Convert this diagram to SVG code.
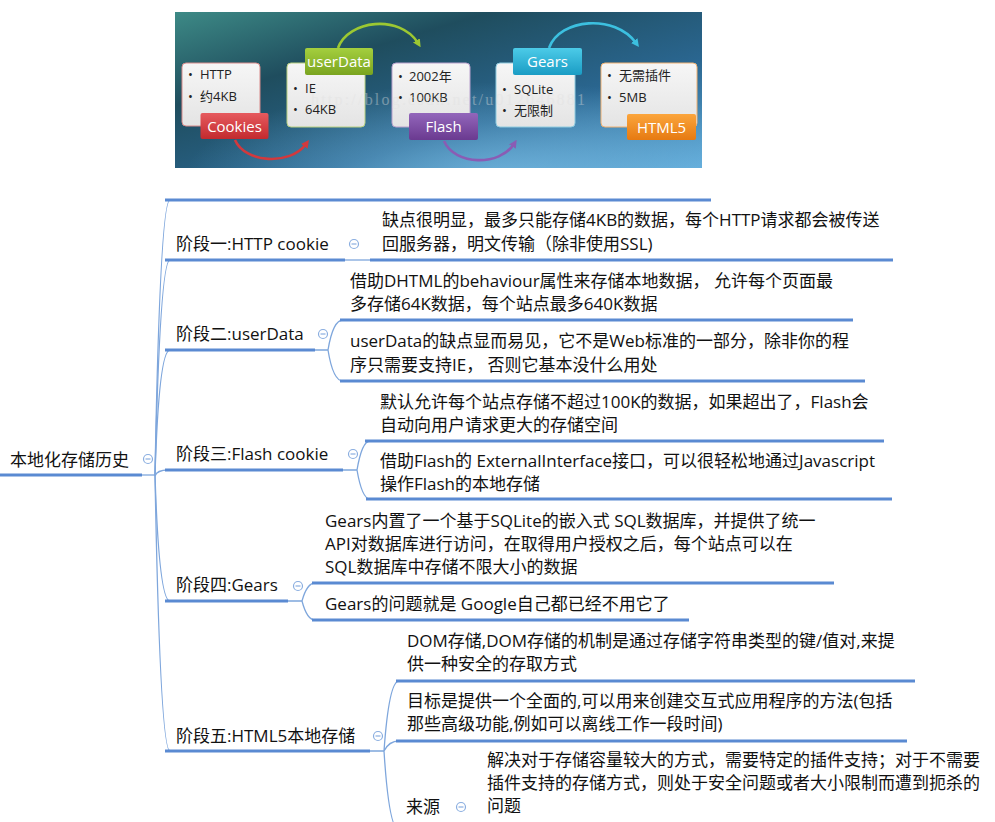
<svg xmlns="http://www.w3.org/2000/svg" width="995" height="822" viewBox="0 0 995 822">
<defs>
<style>
.t{font-family:'Open Sans','Noto Sans CJK SC',sans-serif;font-size:17px;fill:#111}
.ul{stroke:#5a8ad2;stroke-width:3;fill:none}
.cn{stroke:#7ea6dc;stroke-width:1.3;fill:none}
.cc{fill:#fff;stroke:#8aaee0;stroke-width:1.2}
.cm{stroke:#8aaee0;stroke-width:1.2}
.bx{font-family:'Open Sans','Noto Sans CJK SC',sans-serif;font-size:13px;fill:#222}
.lb{font-family:'Open Sans','Noto Sans CJK SC',sans-serif;font-size:15px;fill:#fff;text-anchor:middle}
.arw{fill:none;stroke-width:2.6}
</style>
<linearGradient id="bg" x1="0" y1="0" x2="1" y2="1">
<stop offset="0" stop-color="#3d8a86"/>
<stop offset="0.3" stop-color="#1f4d5e"/>
<stop offset="0.65" stop-color="#2a6690"/>
<stop offset="1" stop-color="#5ea9d8"/>
</linearGradient>
<radialGradient id="glow" cx="0.62" cy="1.05" r="0.6">
<stop offset="0" stop-color="#7cc0e8" stop-opacity="0.7"/>
<stop offset="1" stop-color="#7cc0e8" stop-opacity="0"/>
</radialGradient>
<linearGradient id="box" x1="0" y1="0" x2="0" y2="1">
<stop offset="0" stop-color="#f6f6f6"/>
<stop offset="1" stop-color="#e4e4e4"/>
</linearGradient>
<linearGradient id="gr" x1="0" y1="0" x2="0" y2="1"><stop offset="0" stop-color="#e65a5e"/><stop offset="1" stop-color="#c22a2e"/></linearGradient>
<linearGradient id="gg" x1="0" y1="0" x2="0" y2="1"><stop offset="0" stop-color="#a4cf3e"/><stop offset="1" stop-color="#7aa420"/></linearGradient>
<linearGradient id="gp" x1="0" y1="0" x2="0" y2="1"><stop offset="0" stop-color="#9366bb"/><stop offset="1" stop-color="#6a3a90"/></linearGradient>
<linearGradient id="gc" x1="0" y1="0" x2="0" y2="1"><stop offset="0" stop-color="#4ccbe8"/><stop offset="1" stop-color="#1a9cc4"/></linearGradient>
<linearGradient id="go" x1="0" y1="0" x2="0" y2="1"><stop offset="0" stop-color="#fba53c"/><stop offset="1" stop-color="#e67a12"/></linearGradient>
<marker id="mr" markerWidth="8" markerHeight="8" refX="3" refY="4" orient="auto" markerUnits="userSpaceOnUse"><path d="M0,0 L8,4 L0,8 z" fill="#d2393d"/></marker>
<marker id="mg" markerWidth="8" markerHeight="8" refX="3" refY="4" orient="auto" markerUnits="userSpaceOnUse"><path d="M0,0 L8,4 L0,8 z" fill="#9cc832"/></marker>
<marker id="mp" markerWidth="8" markerHeight="8" refX="3" refY="4" orient="auto" markerUnits="userSpaceOnUse"><path d="M0,0 L8,4 L0,8 z" fill="#8a5cb4"/></marker>
<marker id="mc" markerWidth="8" markerHeight="8" refX="3" refY="4" orient="auto" markerUnits="userSpaceOnUse"><path d="M0,0 L8,4 L0,8 z" fill="#3cc0e0"/></marker>
</defs>
<rect width="995" height="822" fill="#fff"/>

<g id="picture">
<rect x="175" y="12" width="527" height="156" fill="url(#bg)"/>
<rect x="175" y="12" width="527" height="156" fill="url(#glow)"/>
<rect x="182" y="63" width="78" height="63" rx="4" fill="url(#box)" stroke="#d88a8a" stroke-width="1"/>
<rect x="287" y="63" width="78" height="64" rx="4" fill="url(#box)" stroke="#b8d080" stroke-width="1"/>
<rect x="392" y="63" width="78" height="64" rx="4" fill="url(#box)" stroke="#b8a0cc" stroke-width="1"/>
<rect x="496" y="63" width="79" height="64" rx="4" fill="url(#box)" stroke="#90cce0" stroke-width="1"/>
<rect x="601" y="63" width="96" height="64" rx="4" fill="url(#box)" stroke="#f0b070" stroke-width="1"/>
<text class="bx" x="188" y="78.5">•<tspan x="200">HTTP</tspan></text>
<text class="bx" x="188" y="100.5">•<tspan x="200">约4KB</tspan></text>
<text class="bx" x="293" y="92.5">•<tspan x="305">IE</tspan></text>
<text class="bx" x="293" y="113.5">•<tspan x="305">64KB</tspan></text>
<text class="bx" x="398" y="80.5">•<tspan x="409">2002年</tspan></text>
<text class="bx" x="398" y="101.5">•<tspan x="409">100KB</tspan></text>
<text class="bx" x="502" y="93.5">•<tspan x="514">SQLite</tspan></text>
<text class="bx" x="502" y="114.5">•<tspan x="514">无限制</tspan></text>
<text class="bx" x="607" y="79.5">•<tspan x="619">无需插件</tspan></text>
<text class="bx" x="607" y="101.5">•<tspan x="619">5MB</tspan></text>
<path class="arw" d="M235,140 C245,163 290,166 306,144" stroke="#d2393d" marker-end="url(#mr)"/>
<path class="arw" d="M338,48 C348,20 400,14 418,43" stroke="#9cc832" marker-end="url(#mg)"/>
<path class="arw" d="M444,141 C455,166 500,166 514,144" stroke="#8a5cb4" marker-end="url(#mp)"/>
<path class="arw" d="M549,48 C560,18 615,14 636,43" stroke="#3cc0e0" marker-end="url(#mc)"/>
<rect x="200.5" y="113" width="68" height="26" rx="2" fill="url(#gr)"/>
<rect x="305" y="48" width="68" height="27" rx="2" fill="url(#gg)"/>
<rect x="409" y="113" width="69" height="27" rx="2" fill="url(#gp)"/>
<rect x="513" y="48" width="69" height="27" rx="2" fill="url(#gc)"/>
<rect x="627" y="114" width="69" height="26" rx="2" fill="url(#go)"/>
<text class="lb" x="234.5" y="131.5">Cookies</text>
<text class="lb" x="339" y="67">userData</text>
<text class="lb" x="443.5" y="132">Flash</text>
<text class="lb" x="547.5" y="67">Gears</text>
<text class="lb" x="661.5" y="132.5">HTML5</text>
<text x="311" y="105" font-family="'Liberation Serif',serif" font-size="16" fill="#e0e0e0" opacity="0.4" textLength="274" lengthAdjust="spacing">http://blog.csdn.net/u012046881</text>
</g>

<g id="connectors">
<line class="cn" x1="142" y1="475" x2="155" y2="475"/>
<path class="cn" d="M155,475 Q160,200 170,200"/>
<path class="cn" d="M155,475 Q160,260 170,260"/>
<path class="cn" d="M155,475 Q159,350 170,350"/>
<path class="cn" d="M155,476 Q157,470 168,470"/>
<path class="cn" d="M155,475 Q159,601 170,601"/>
<path class="cn" d="M155,475 Q160,751 170,751"/>
<line class="cn" x1="345" y1="260" x2="372" y2="260"/>
<path class="cn" d="M315,350 L328,350 Q333,320 343,320 M328,350 Q333,381 343,381"/>
<path class="cn" d="M343,470 L357,470 Q362,441 370,441 M357,470 Q362,499 370,499"/>
<path class="cn" d="M288,601 L302,601 Q307,583 315,583 M302,601 Q307,620 315,620"/>
<path class="cn" d="M370,751 L384,751 Q389,681 399,681 M384,751 Q389,741 399,741 M384,751 Q389,830 399,830"/>
</g>

<g id="root">
<line class="ul" x1="0" y1="475" x2="142" y2="475"/>
<text class="t" x="10" y="466">本地化存储历史</text>
<circle class="cc" cx="148" cy="459" r="4.5"/><line class="cm" x1="145.5" y1="459" x2="150.5" y2="459"/>
</g>

<g id="image-node">
<line class="ul" x1="165" y1="200" x2="711" y2="200"/>
</g>

<g id="stage1">
<line class="ul" x1="165" y1="260" x2="345" y2="260"/>
<text class="t" x="176" y="250">阶段一:HTTP cookie</text>
<circle class="cc" cx="354" cy="244" r="4.5"/><line class="cm" x1="351.5" y1="244" x2="356.5" y2="244"/>
</g>
<g id="stage1-a">
<line class="ul" x1="370" y1="260" x2="893" y2="260"/>
<text class="t" x="382" y="226">缺点很明显，最多只能存储4KB的数据，每个HTTP请求都会被传送</text>
<text class="t" x="382" y="250">回服务器，明文传输（除非使用SSL)</text>
</g>

<g id="stage2">
<line class="ul" x1="165" y1="350" x2="315" y2="350"/>
<text class="t" x="176" y="340">阶段二:userData</text>
<circle class="cc" cx="323" cy="334" r="4.5"/><line class="cm" x1="320.5" y1="334" x2="325.5" y2="334"/>
</g>
<g id="stage2-a">
<line class="ul" x1="340" y1="320" x2="853" y2="320"/>
<text class="t" x="350" y="287">借助DHTML的behaviour属性来存储本地数据， 允许每个页面最</text>
<text class="t" x="350" y="310">多存储64K数据，每个站点最多640K数据</text>
</g>
<g id="stage2-b">
<line class="ul" x1="340" y1="381" x2="865" y2="381"/>
<text class="t" x="350" y="347">userData的缺点显而易见，它不是Web标准的一部分，除非你的程</text>
<text class="t" x="350" y="371">序只需要支持IE， 否则它基本没什么用处</text>
</g>

<g id="stage3">
<line class="ul" x1="165" y1="470" x2="343" y2="470"/>
<text class="t" x="176" y="460">阶段三:Flash cookie</text>
<circle class="cc" cx="353" cy="454" r="4.5"/><line class="cm" x1="350.5" y1="454" x2="355.5" y2="454"/>
</g>
<g id="stage3-a">
<line class="ul" x1="365" y1="441" x2="884" y2="441"/>
<text class="t" x="380" y="408">默认允许每个站点存储不超过100K的数据，如果超出了，Flash会</text>
<text class="t" x="380" y="431">自动向用户请求更大的存储空间</text>
</g>
<g id="stage3-b">
<line class="ul" x1="366" y1="499" x2="892" y2="499"/>
<text class="t" x="380" y="467">借助Flash的 ExternalInterface接口，可以很轻松地通过Javascript</text>
<text class="t" x="380" y="490">操作Flash的本地存储</text>
</g>

<g id="stage4">
<line class="ul" x1="165" y1="601" x2="288" y2="601"/>
<text class="t" x="176" y="591">阶段四:Gears</text>
<circle class="cc" cx="298" cy="586" r="4.5"/><line class="cm" x1="295.5" y1="586" x2="300.5" y2="586"/>
</g>
<g id="stage4-a">
<line class="ul" x1="312" y1="583" x2="834" y2="583"/>
<text class="t" x="325" y="527">Gears内置了一个基于SQLite的嵌入式 SQL数据库，并提供了统一</text>
<text class="t" x="325" y="550">API对数据库进行访问，在取得用户授权之后，每个站点可以在</text>
<text class="t" x="325" y="573">SQL数据库中存储不限大小的数据</text>
</g>
<g id="stage4-b">
<line class="ul" x1="312" y1="620" x2="689" y2="620"/>
<text class="t" x="325" y="610">Gears的问题就是 Google自己都已经不用它了</text>
</g>

<g id="stage5">
<line class="ul" x1="165" y1="751" x2="370" y2="751"/>
<text class="t" x="176" y="742">阶段五:HTML5本地存储</text>
<circle class="cc" cx="378" cy="736" r="4.5"/><line class="cm" x1="375.5" y1="736" x2="380.5" y2="736"/>
</g>
<g id="stage5-a">
<line class="ul" x1="396" y1="681" x2="915" y2="681"/>
<text class="t" x="407" y="647">DOM存储,DOM存储的机制是通过存储字符串类型的键/值对,来提</text>
<text class="t" x="407" y="670">供一种安全的存取方式</text>
</g>
<g id="stage5-b">
<line class="ul" x1="396" y1="741" x2="907" y2="741"/>
<text class="t" x="407" y="707">目标是提供一个全面的,可以用来创建交互式应用程序的方法(包括</text>
<text class="t" x="407" y="730">那些高级功能,例如可以离线工作一段时间)</text>
</g>
<g id="stage5-c">
<text class="t" x="406" y="813">来源</text>
<circle class="cc" cx="461" cy="807" r="4.5"/><line class="cm" x1="458.5" y1="807" x2="463.5" y2="807"/>
</g>
<g id="stage5-c-a">
<text class="t" x="487" y="766">解决对于存储容量较大的方式，需要特定的插件支持；对于不需要</text>
<text class="t" x="487" y="789">插件支持的存储方式，则处于安全问题或者大小限制而遭到扼杀的</text>
<text class="t" x="487" y="812">问题</text>
</g>
</svg>
